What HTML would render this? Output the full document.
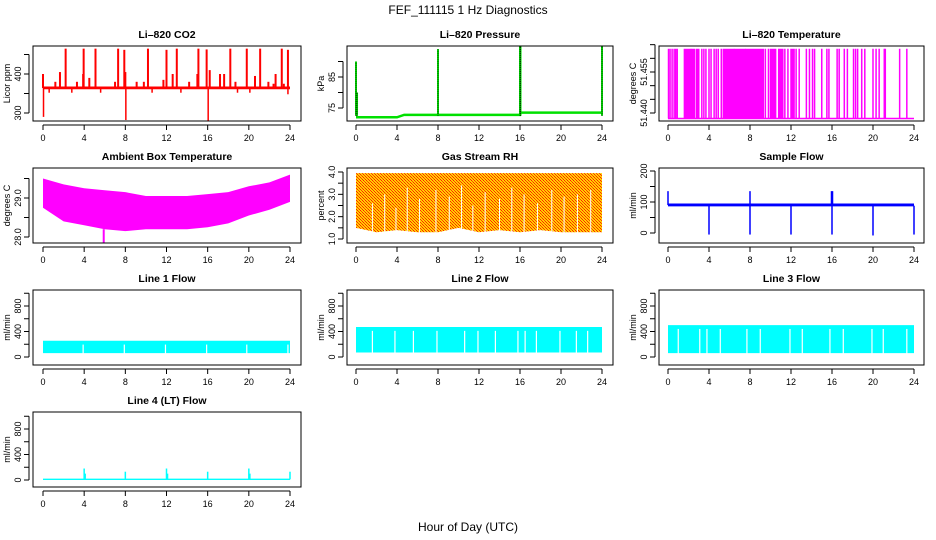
<!DOCTYPE html>
<html><head><meta charset="utf-8">
<style>
html,body{margin:0;padding:0;background:#fff}
svg{display:block}
text{font-family:"Liberation Sans",sans-serif;fill:#000}
</style></head>
<body>
<svg id="chart" width="936" height="540" viewBox="0 0 936 540" xmlns="http://www.w3.org/2000/svg">
<defs>
<pattern id="rhpat" width="3" height="3" patternUnits="userSpaceOnUse">
<rect width="3" height="3" fill="#ffd000"/><rect width="1" height="1" fill="#ff2000"/><rect x="1" y="1" width="1" height="1" fill="#ff4000"/><rect x="2" y="2" width="1" height="1" fill="#ff2000"/>
</pattern>
</defs>
<text x="468" y="14" text-anchor="middle" font-size="12">FEF_111115  1 Hz Diagnostics</text>
<text x="468" y="531" text-anchor="middle" font-size="12">Hour of Day (UTC)</text>
<g id="panels"></g>
</svg>
<script>
// ---- data ----
const xTicks = [0,4,8,12,16,20,24];
const co2BandHours = [0,24];
const co2BandLo = [361,361];
const co2BandHi = [368,368];
const co2UpHours = [2.2,3.95,5.1,7.3,7.9,10.2,12.0,13.0,15.1,15.9,18.2,19.8,21.1,23.2,23.8,0.0,1.2,1.65,3.3,3.9,4.5,7.0,8.0,9.1,9.8,11.7,12.6,14.2,15.0,16.2,17.2,17.6,18.7,20.6,21.9,22.4,22.6,23.4];
const co2UpTop = [465,465,465,465,462,465,462,465,465,463,465,465,465,465,462,400,380,405,380,400,390,380,405,380,380,385,400,380,400,410,400,400,380,395,380,375,400,375];
const co2DownHours = [0.05,8.05,16.05,0.6,2.8,5.6,10.6,13.4,18.9,20.1,23.8];
const co2DownBottom = [290,282,278,352,352,352,352,352,352,352,348];
const pressHours = [0,4,4.7,8,12,16,16.05,20,24];
const pressBase = [72,72,72.8,72.8,72.8,72.8,73.5,73.5,73.5];
const pressSpikeHours = [0.0,0.1,8.0,16.0,16.05,24.0];
const pressSpikeTop = [90,80,94,95,95,95];
const tempLow = 51.438, tempHigh = 51.4635;
const tempBlockStart = [0.05,0.2,0.4,0.6,0.75,0.9,1.6,2.3,2.8,3.3,3.5,3.7,4.0,4.2,4.5,4.7,4.9,5.2,5.4,6.5,7.6,9.5,9.8,10.0,10.8,11.4,11.7,12.0,12.5,12.8,13.5,13.8,14.1,14.3,15.0,15.5,15.7,16.5,16.7,17.2,17.5,18.1,18.3,18.5,18.9,19.2,20.0,20.3,20.6,21.1,21.2,22.6,23.3];
const tempBlockEnd   = [0.05,0.2,0.4,0.6,0.75,0.9,2.2,2.6,3.0,3.3,3.5,3.7,4.0,4.2,4.5,4.7,4.9,5.2,6.4,7.5,9.3,9.5,9.8,10.5,11.2,11.4,11.7,12.3,12.5,12.8,13.5,13.8,14.1,14.3,15.0,15.5,15.7,16.5,16.7,17.2,17.5,18.1,18.3,18.5,18.9,19.2,20.0,20.3,20.6,21.1,21.2,22.6,23.3];
const ambHours = [0,2,4,6,8,10,12,14,16,18,20,22,24];
const ambHi = [29.5,29.35,29.25,29.2,29.15,29.05,29.05,29.05,29.1,29.15,29.3,29.4,29.6];
const ambLo = [28.75,28.4,28.3,28.2,28.15,28.2,28.2,28.2,28.25,28.35,28.55,28.7,28.9];
const rhHours = [0,2,4,6,8,10,12,14,16,18,20,22,24];
const rhHi = [3.95,3.95,3.95,3.95,3.95,3.95,3.95,3.95,3.95,3.95,3.95,3.95,3.95];
const rhLo = [1.5,1.3,1.4,1.3,1.3,1.5,1.3,1.4,1.3,1.4,1.3,1.3,1.3];
const rhGapHours = [1.6,2.8,3.9,5.0,6.2,7.8,9.1,10.3,11.4,12.6,14.0,15.2,16.4,17.7,19.1,20.3,21.6,22.9];
const rhGapTop = [2.6,3.0,2.4,3.3,2.8,3.2,2.9,3.4,2.5,3.1,2.8,3.3,3.0,2.6,3.2,2.9,3.0,3.2];
const sfBandHours = [0,24];
const sfBandLo = [86,86];
const sfBandHi = [95,95];
const sfDipHours = [4,8,12,16,20,24];
const sfDipBottom = [-5,-5,-5,-5,-8,-5];
const sfSpikeHours = [0,8,15.95,16.05];
const sfSpikeTop = [135,135,135,135];
const l1Lo = 60, l1Hi = 255;
const l1GapHours = [3.9,7.9,11.9,15.9,19.8,23.8];
const l2Lo = 70, l2Hi = 470;
const l2GapHours = [1.6,3.8,5.6,7.9,10.6,11.9,13.6,15.8,16.5,17.6,19.9,21.5,22.6];
const l3Lo = 60, l3Hi = 500;
const l3GapHours = [1.0,3.1,3.8,5.1,7.7,9.0,11.9,13.1,15.8,17.1,19.9,21.0,23.3];
const l4Lo = 0, l4Hi = 22;
const l4SpikeHours = [4,4.1,8,12,12.1,16,20,20.1,24];
const l4SpikeTop = [180,100,130,180,100,130,180,100,130];

// ---- layout ----
const cols = [{l:33,r:301,x0:43,x24:290},{l:347,r:613,x0:356,x24:602},{l:659,r:924,x0:668,x24:914}];
const rows = [{t:46,b:121},{t:168,b:243},{t:290,b:365},{t:412,b:487}];
const NS = 'http://www.w3.org/2000/svg';
const root = document.getElementById('panels');
function mk(tag, attrs, parent){ const e=document.createElementNS(NS,tag); for(const k in attrs) e.setAttribute(k,attrs[k]); (parent||root).appendChild(e); return e; }

function panel(name, title, ylab, c, r, ya, pa, yb, pb, yticks, ylabels, draw){
  const C=cols[c], R=rows[r];
  const g=mk('g',{});
  
  
  const xs=h=>C.x0+(C.x24-C.x0)*h/24;
  const ys=v=>pa+(v-ya)*(pb-pa)/(yb-ya);
  const clipId='clip-'+name;
  const cp=mk('clipPath',{id:clipId},g); mk('rect',{x:C.l,y:R.t,width:C.r-C.l,height:R.b-R.t},cp);
  const dg=mk('g',{'clip-path':'url(#'+clipId+')'},g);
  
  
  draw(dg,xs,ys);
  const box=mk('rect',{x:C.l,y:R.t,width:C.r-C.l,height:R.b-R.t,fill:'none',stroke:'#000','stroke-width':1},g);
  
  
  const t=mk('text',{x:(C.l+C.r)/2,y:R.t-8,'text-anchor':'middle','font-size':10.5,'font-weight':'bold'},g); t.textContent=title;
  
  
  const ax=mk('g',{},g);
  
  
  mk('line',{x1:xs(0),x2:xs(24),y1:R.b+4,y2:R.b+4,stroke:'#000'},ax);
  xTicks.forEach(h=>{ mk('line',{x1:xs(h),x2:xs(h),y1:R.b+4,y2:R.b+9,stroke:'#000'},ax);
    const tx=mk('text',{x:xs(h),y:R.b+20,'text-anchor':'middle','font-size':9},ax); tx.textContent=h;});
  const ay=mk('g',{},g);
  
  
  const yx=C.l-4;
  mk('line',{x1:yx,x2:yx,y1:ys(yticks[0]),y2:ys(yticks[yticks.length-1]),stroke:'#000'},ay);
  yticks.forEach(v=>mk('line',{x1:yx-5,x2:yx,y1:ys(v),y2:ys(v),stroke:'#000'},ay));
  ylabels.forEach(v=>{ const yy=ys(v); const tx=mk('text',{x:yx-8,y:yy,'text-anchor':'middle','font-size':9,transform:'rotate(-90 '+(yx-8)+' '+yy+')'},ay); tx.textContent=(typeof v==='number'&&ylabels.fmt)?v.toFixed(ylabels.fmt):v; });
  const yl=mk('text',{x:C.l-23,y:(R.t+R.b)/2,'text-anchor':'middle','font-size':9,transform:'rotate(-90 '+(C.l-23)+' '+((R.t+R.b)/2)+')'},g); yl.textContent=ylab;
  
  
}
function band(g,xs,ys,hours,lo,hi,fill){
  let pts=hours.map((h,i)=>xs(h)+','+ys(hi[i]));
  pts=pts.concat(hours.slice().reverse().map((h,i)=>xs(h)+','+ys(lo[hours.length-1-i])));
  const p=mk('polygon',{points:pts.join(' '),fill:fill},g);
  
  
}
function vline(g,x,y1,y2,col,w){
  const l=mk('line',{x1:x,x2:x,y1:y1,y2:y2,stroke:col,'stroke-width':w||1.5},g);
  
  
}

panel('co2-panel','Li\u2013820 CO2','Licor ppm',0,0,300,113,400,74,[300,350,400,450],[300,400],(g,xs,ys)=>{
  band(g,xs,ys,co2BandHours,co2BandLo,co2BandHi,'#ff0000');
  co2UpHours.forEach((h,i)=>vline(g,xs(h),ys(364),ys(co2UpTop[i]),'#ff0000',2));
  co2DownHours.forEach((h,i)=>vline(g,xs(h),ys(364),ys(co2DownBottom[i]),'#ff0000',1.5));
});
panel('pressure-panel','Li\u2013820 Pressure','kPa',1,0,75,108,85,77,[75,80,85,90],[75,85],(g,xs,ys)=>{
  const pts=pressHours.map((h,i)=>xs(h)+','+ys(pressBase[i])).join(' ');
  const pl=mk('polyline',{points:pts,fill:'none',stroke:'#00e000','stroke-width':2.5},g);
  
  
  pressSpikeHours.forEach((h,i)=>vline(g,xs(h),ys(72.5),ys(pressSpikeTop[i]),'#00e000',2));
  pressSpikeHours.forEach((h,i)=>{ const l=mk('line',{x1:xs(h),x2:xs(h),y1:ys(72.5),y2:ys(pressSpikeTop[i]),stroke:'#000','stroke-width':0.8,'stroke-dasharray':'1,1'},g);
    
    });
});
const tl=[51.440,51.455]; tl.fmt=3;
panel('li820-temp-panel','Li\u2013820 Temperature','degrees C',2,0,51.440,113,51.455,72,[51.440,51.445,51.450,51.455,51.460,51.465],tl,(g,xs,ys)=>{
  mk('line',{x1:xs(0),x2:xs(24),y1:ys(tempLow),y2:ys(tempLow),stroke:'#ff00ff','stroke-width':1.5},g);
  tempBlockStart.forEach((s,i)=>{ const e=tempBlockEnd[i];
    const r=mk('rect',{x:xs(s)-0.75,y:ys(tempHigh),width:Math.max(1.5,xs(e)-xs(s)+1.5),height:ys(tempLow)-ys(tempHigh),fill:'#ff00ff'},g);
    
    });
});
const al=[28.0,29.0]; al.fmt=1;
panel('ambient-temp-panel','Ambient Box Temperature','degrees C',0,1,28.0,237,29.0,198,[28.0,28.5,29.0,29.5],al,(g,xs,ys)=>{
  band(g,xs,ys,ambHours,ambLo,ambHi,'#ff00ff');
  vline(g,xs(5.9),ys(28.2),ys(27.8),'#ff00ff',2);
});
const rl=[1.0,2.0,3.0,4.0]; rl.fmt=1;
panel('rh-panel','Gas Stream RH','percent',1,1,1.0,239,4.0,172,[1.0,1.5,2.0,2.5,3.0,3.5,4.0],rl,(g,xs,ys)=>{
  band(g,xs,ys,rhHours,rhLo,rhHi,'url(#rhpat)');
  rhGapHours.forEach((h,i)=>vline(g,xs(h),ys(0.5),ys(rhGapTop[i]),'#ffffff',1));
});
panel('sample-flow-panel','Sample Flow','ml/min',2,1,0,233,200,171,[0,50,100,150,200],[0,100,200],(g,xs,ys)=>{
  band(g,xs,ys,sfBandHours,sfBandLo,sfBandHi,'#0000ff');
  sfDipHours.forEach((h,i)=>vline(g,xs(h),ys(88),ys(sfDipBottom[i]),'#0000ff',1.5));
  sfSpikeHours.forEach((h,i)=>vline(g,xs(h),ys(90),ys(sfSpikeTop[i]),'#0000ff',1.5));
});
const fl=[0,400,800], ft=[0,200,400,600,800,1000];
function flowPanel(name,title,c,r,lo,hi,gaps){
  const p0=r===2?357:480;
  panel(name,title,'ml/min',c,r,0,p0,400,p0-25.5,ft,fl,(g,xs,ys)=>{
    band(g,xs,ys,[0,24],[lo,lo],[hi,hi],'#00ffff');
    gaps.forEach(h=>vline(g,xs(h),ys(lo-20),ys(hi-60),'#ffffff',1.2));
  });
}
flowPanel('line1-flow-panel','Line 1 Flow',0,2,l1Lo,l1Hi,l1GapHours);
flowPanel('line2-flow-panel','Line 2 Flow',1,2,l2Lo,l2Hi,l2GapHours);
flowPanel('line3-flow-panel','Line 3 Flow',2,2,l3Lo,l3Hi,l3GapHours);
panel('line4-flow-panel','Line 4 (LT) Flow','ml/min',0,3,0,480,400,454.5,ft,fl,(g,xs,ys)=>{
  band(g,xs,ys,[0,24],[l4Lo,l4Lo],[l4Hi,l4Hi],'#00ffff');
  l4SpikeHours.forEach((h,i)=>vline(g,xs(h),ys(10),ys(l4SpikeTop[i]),'#00ffff',1.5));
});
</script>
</body></html>
